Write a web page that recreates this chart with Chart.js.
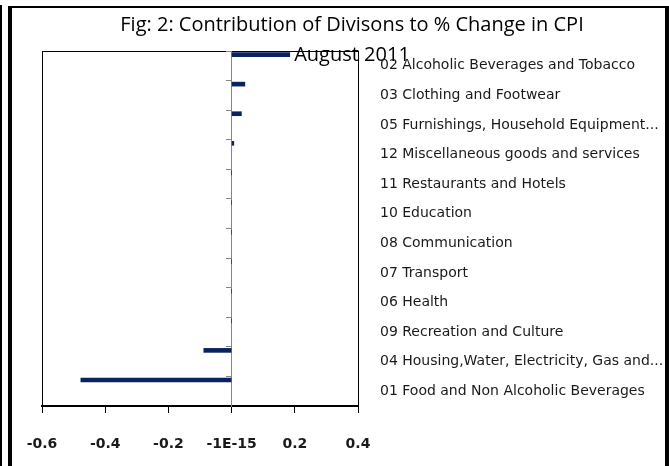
<!DOCTYPE html>
<html>
<head>
<meta charset="utf-8">
<title>Fig 2 - Contribution of Divisions to % Change in CPI</title>
<script src="https://cdn.jsdelivr.net/npm/chart.js@4.4.0/dist/chart.umd.min.js"></script>
<style>
  html, body { margin: 0; padding: 0; background: #fff; }
  .wrap { position: relative; width: 669px; height: 466px; overflow: hidden; }
  .wrap canvas { position: absolute; left: 0; top: 0; }
  .moldura {
    position: absolute; left: 8px; top: 6px; width: 661px; height: 480px;
    box-sizing: border-box; border: 2px solid #000;
    border-left-width: 4px; border-right-width: 4px; pointer-events: none;
  }
  .barra { position: absolute; left: 0; top: 5px; bottom: 0; width: 2px; background: #000; }
</style>
</head>
<body>
<div class="wrap">
  <canvas id="grafico" width="669" height="466"></canvas>
  <div class="barra"></div>
  <div class="moldura"></div>
</div>
<script>
var titulo = ['Fig: 2: Contribution of Divisons to % Change in CPI', 'August 2011'];

// divisoes de cima para baixo
var divisoes = [
  '02 Alcoholic Beverages and Tobacco',
  '03 Clothing and Footwear',
  '05 Furnishings, Household Equipment...',
  '12 Miscellaneous goods and services',
  '11 Restaurants and Hotels',
  '10 Education',
  '08 Communication',
  '07 Transport',
  '06 Health',
  '09 Recreation and Culture',
  '04 Housing,Water, Electricity, Gas and...',
  '01 Food and Non Alcoholic Beverages'
];
var contribuicoes = [0.184, 0.042, 0.031, 0.007, 0, 0, 0, 0, 0, 0, -0.088, -0.477];

var xTicksValores = [-0.6, -0.4, -0.2, 0, 0.2, 0.4];
var xTicksRotulos = ['-0.6', '-0.4', '-0.2', '-1E-15', '0.2', '0.4'];

var corBarra = '#0a2360';

new Chart(document.getElementById('grafico'), {
  type: 'bar',
  data: {
    datasets: [{
      label: 'Contribution',
      data: contribuicoes.map(function (v, i) { return { x: v, y: i }; }),
      backgroundColor: corBarra,
      borderWidth: 0,
      barThickness: 4,
      xAxisID: 'x',
      yAxisID: 'y'
    }]
  },
  options: {
    indexAxis: 'y',
    responsive: false,
    animation: false,
    layout: { padding: { left: 42, right: 7, top: 0, bottom: 0 } },
    plugins: {
      legend: { display: false },
      tooltip: { enabled: false },
      title: {
        display: true,
        text: titulo,
        color: '#000',
        font: { family: 'Open Sans', size: 20, weight: 'normal', lineHeight: '30px' },
        padding: { top: 10, bottom: -19 }
      }
    },
    scales: {
      x: {
        type: 'linear',
        position: 'bottom',
        min: -0.6,
        max: 0.4,
        afterBuildTicks: function (s) {
          s.ticks = xTicksValores.map(function (v) { return { value: v }; });
        },
        afterFit: function (s) { s.height = 60; },
        ticks: {
          color: '#1a1a1a',
          font: { family: 'DejaVu Sans', size: 14, weight: 'bold' },
          padding: 23,
          maxRotation: 0,
          callback: function (v, i) { return xTicksRotulos[i]; }
        },
        grid: {
          drawOnChartArea: true,
          color: function (c) {
            return (c.index === 0 || c.index === xTicksValores.length - 1) ? '#000' : 'rgba(0,0,0,0)';
          },
          tickColor: '#000',
          tickLength: 7,
          lineWidth: 1
        },
        border: { display: true, color: '#000', width: 2 }
      },
      y: {
        type: 'linear',
        display: false,
        offset: false,
        reverse: true,
        min: -0.12,
        max: divisoes.length - 0.12
      },
      yEixo: {
        type: 'category',
        labels: divisoes,
        position: { x: 0 },
        offset: true,
        ticks: { display: false },
        grid: {
          offset: true,
          drawOnChartArea: true,
          color: function (c) { return c.index === 0 ? '#000' : 'rgba(0,0,0,0)'; },
          tickColor: '#868686',
          tickLength: 5
        },
        border: { display: true, color: '#868686', width: 1 }
      },
      yRotulos: {
        type: 'category',
        labels: divisoes,
        position: 'right',
        offset: true,
        afterFit: function (s) { s.width = 669 - 7 - 358; },
        grid: { display: false, drawTicks: false },
        border: { display: false },
        ticks: {
          color: '#1a1a1a',
          crossAlign: 'near',
          padding: 22,
          autoSkip: false,
          font: { family: 'DejaVu Sans', size: 14 }
        }
      }
    }
  }
});
</script>
</body>
</html>
